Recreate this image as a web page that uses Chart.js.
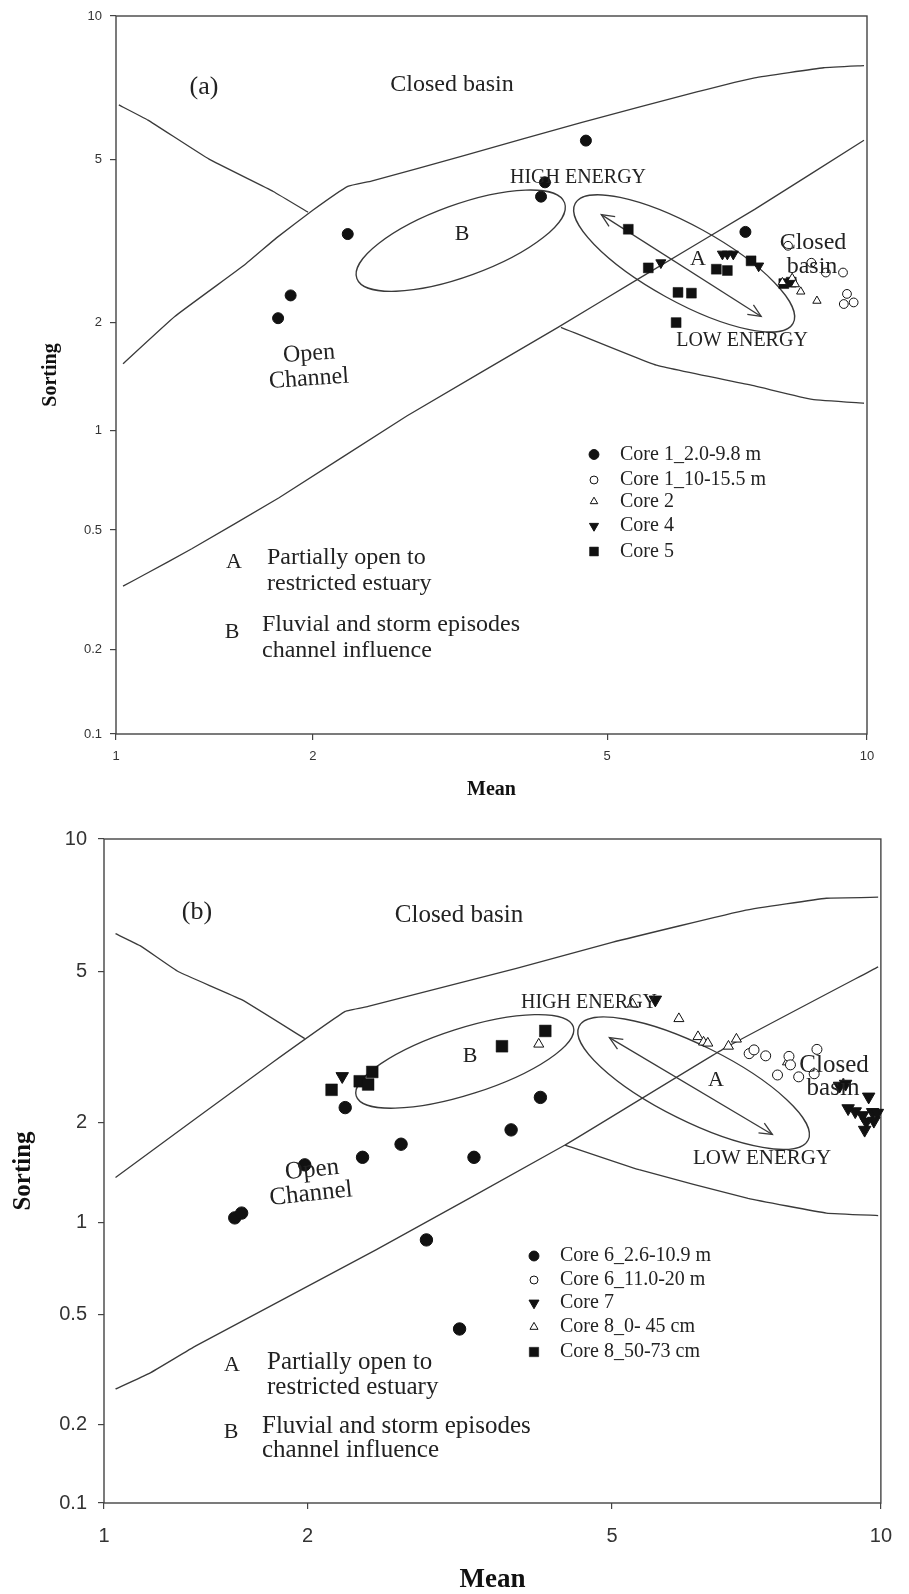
<!DOCTYPE html>
<html>
<head>
<meta charset="utf-8">
<title>Mean vs Sorting</title>
<script src="https://cdn.jsdelivr.net/npm/chart.js@4.4.1/dist/chart.umd.min.js"></script>
<style>
  html, body { margin: 0; padding: 0; background: #fff; }
  #wrap { position: relative; width: 909px; height: 1594px; }
  canvas { position: absolute; left: 0; }
  #chartA { top: 0; }
  #chartB { top: 800px; }
</style>
</head>
<body>
<div id="wrap">
  <canvas id="chartA" width="909" height="800"></canvas>
  <canvas id="chartB" width="909" height="794"></canvas>
</div>
<script>
// tick values shared by both panels
const X_TICKS = [1, 2, 5, 10];
const Y_TICKS = [0.1, 0.2, 0.5, 1, 2, 5, 10];
// where each tick sits along its axis in the source figure (it is not a clean log spacing)
const X_ANCHORS = [0, 0.262, 0.654, 1];
const Y_ANCHORS = [0, 0.118, 0.284, 0.423, 0.573, 0.80, 1];

// ---------- panel (a) ----------
const PA_CORE1_UPPER_X = [1.77, 1.85, 2.23, 4.07, 4.12, 4.68, 7.23];
const PA_CORE1_UPPER_Y = [2.05, 2.33, 3.29, 4.06, 4.40, 5.48, 3.33];
const PA_CORE1_LOWER_X = [8.10, 8.62, 8.96, 9.38, 9.48, 9.40, 9.65];
const PA_CORE1_LOWER_Y = [3.08, 2.80, 2.65, 2.65, 2.35, 2.22, 2.24];
const PA_CORE2_X = [7.98, 8.19, 8.26, 8.38, 8.75];
const PA_CORE2_Y = [2.51, 2.57, 2.48, 2.38, 2.26];
const PA_CORE4_X = [5.77, 6.80, 6.89, 7.00, 7.49];
const PA_CORE4_Y = [2.80, 2.94, 2.94, 2.94, 2.75];
const PA_CORE5_X = [5.29, 5.58, 6.69, 6.89, 6.04, 6.26, 6.01, 7.34, 8.01, 8.17];
const PA_CORE5_Y = [3.38, 2.72, 2.70, 2.68, 2.37, 2.36, 2.00, 2.83, 2.49, 2.51];

// field boundaries
const PA_UPPER_X = [1.025, 1.23, 1.57, 1.76, 2.0, 2.23, 2.4, 3.21, 4.61, 6.35, 7.41, 8.91, 9.92];
const PA_UPPER_Y = [1.535, 2.07, 2.76, 3.22, 3.76, 4.30, 4.43, 5.1, 5.98, 6.93, 7.42, 7.79, 7.87];
const PA_FALL1_X = [1.01, 1.119, 1.388, 1.74, 1.967];
const PA_FALL1_Y = [6.51, 6.05, 5.01, 4.18, 3.72];
const PA_FALL2_X = [4.33, 5.70, 7.41, 8.64, 9.92];
const PA_FALL2_Y = [1.94, 1.52, 1.33, 1.22, 1.19];
const PA_LOWER_X = [1.025, 1.108, 1.306, 1.776, 2.68, 4.29, 5.44, 7.41, 9.92];
const PA_LOWER_Y = [0.325, 0.356, 0.433, 0.626, 1.096, 1.94, 2.56, 3.78, 5.49];

// ellipses: centre, end of long axis, end of short axis; arrow: start, end
const PA_ELLIPSE_A = [[6.14, 2.79], [8.21, 1.99], [6.44, 3.37]];
const PA_ELLIPSE_B = [[3.17, 3.17], [4.38, 3.92], [3.29, 2.62]];
const PA_ARROW = [[4.91, 3.67], [7.54, 2.07]];

// ---------- panel (b) ----------
const PB_CORE6_UPPER_X = [1.561, 1.598, 1.981, 2.24, 2.36, 2.65, 2.86, 3.30, 3.69, 3.16, 4.03];
const PB_CORE6_UPPER_Y = [1.03, 1.065, 1.49, 2.19, 1.57, 1.72, 0.875, 1.57, 1.90, 0.443, 2.33];
const PB_CORE6_LOWER_X = [7.12, 7.21, 7.43, 7.66, 7.89, 8.09, 8.42, 8.48, 7.92];
const PB_CORE6_LOWER_Y = [3.04, 3.11, 3.00, 2.67, 2.99, 2.64, 2.69, 3.12, 2.84];
const PB_CORE7_X = [2.22, 5.59, 8.99, 9.13, 9.69, 9.19, 9.36, 9.54, 9.79, 9.91, 9.63, 9.82, 9.59];
const PB_CORE7_Y = [2.65, 4.22, 2.50, 2.53, 2.34, 2.18, 2.14, 2.09, 2.13, 2.12, 2.01, 2.02, 1.90];
const PB_CORE8_TOP_X = [5.27, 5.94, 6.24, 6.33, 6.40, 6.75, 6.89, 7.86, 4.01];
const PB_CORE8_TOP_Y = [4.11, 3.76, 3.37, 3.26, 3.24, 3.18, 3.32, 2.89, 3.22];
const PB_CORE8_BOTTOM_X = [2.15, 2.34, 2.40, 2.43, 3.59, 4.09];
const PB_CORE8_BOTTOM_Y = [2.44, 2.57, 2.52, 2.72, 3.18, 3.49];

const PB_UPPER_X = [1.04, 1.367, 1.779, 2.24, 2.40, 3.75, 5.0, 7.06, 8.69, 9.93];
const PB_UPPER_Y = [1.365, 2.05, 2.89, 3.93, 4.05, 5.09, 5.83, 6.90, 7.34, 7.38];
const PB_FALL1_X = [1.04, 1.135, 1.289, 1.598, 1.981];
const PB_FALL1_Y = [6.10, 5.71, 5.0, 4.22, 3.33];
const PB_FALL2_X = [4.34, 5.36, 7.10, 8.69, 9.93];
const PB_FALL2_Y = [1.71, 1.44, 1.18, 1.065, 1.047];
const PB_LOWER_X = [1.04, 1.169, 1.367, 2.457, 4.34, 6.68, 9.93];
const PB_LOWER_Y = [0.269, 0.307, 0.385, 0.812, 1.71, 3.14, 5.13];

const PB_ELLIPSE_A = [[6.17, 2.54], [8.29, 1.77], [6.43, 3.13]];
const PB_ELLIPSE_B = [[3.21, 2.90], [4.45, 3.58], [3.30, 2.39]];
const PB_ARROW = [[4.96, 3.35], [7.56, 1.84]];

const SERIF = '"Liberation Serif", "Times New Roman", serif';
const SANS = '"Liberation Sans", Arial, sans-serif';
const INK = "#111";
const LINE = "#3a3a3a";
const TEXT = "#222";

// log axis whose decades are spaced like the original scan
function warp(ticks, anchors, v) {
    let i = 0;
    while (i < ticks.length - 2 && v > ticks[i + 1]) i++;
    const l0 = Math.log10(ticks[i]), l1 = Math.log10(ticks[i + 1]);
    const t = (Math.log10(v) - l0) / (l1 - l0);
    return anchors[i] + t * (anchors[i + 1] - anchors[i]);
}
function unwarp(ticks, anchors, d) {
    let i = 0;
    while (i < anchors.length - 2 && d > anchors[i + 1]) i++;
    const t = (d - anchors[i]) / (anchors[i + 1] - anchors[i]);
    const l0 = Math.log10(ticks[i]), l1 = Math.log10(ticks[i + 1]);
    return Math.pow(10, l0 + t * (l1 - l0));
}

class WarpedLogScale extends Chart.LogarithmicScale {
    tickSet() {
        return this.axis === "x" ? [X_TICKS, X_ANCHORS] : [Y_TICKS, Y_ANCHORS];
    }
    buildTicks() {
        return this.tickSet()[0].map(v => ({ value: v }));
    }
    getPixelForValue(value) {
        if (value === null || value === undefined || !(value > 0)) return NaN;
        const [t, a] = this.tickSet();
        return this.getPixelForDecimal(warp(t, a, value));
    }
    getValueForPixel(pixel) {
        const [t, a] = this.tickSet();
        return unwarp(t, a, this.getDecimalForPixel(pixel));
    }
}
WarpedLogScale.id = "warpedLog";
Chart.register(WarpedLogScale);

const pts = (xs, ys) => xs.map((x, i) => ({ x: x, y: ys[i] }));

const MARKS = {
    dot:    { style: "circle",   rot: 0,   fill: INK,    bw: 1 },
    ring:   { style: "circle",   rot: 0,   fill: "#fff", bw: 1 },
    up:     { style: "triangle", rot: 0,   fill: "#fff", bw: 1 },
    down:   { style: "triangle", rot: 180, fill: INK,    bw: 1 },
    square: { style: "rect",     rot: 0,   fill: INK,    bw: 0.5 }
};

function markSet(label, xs, ys, kind, radius) {
    const m = MARKS[kind];
    return {
        label: label,
        data: pts(xs, ys),
        showLine: false,
        pointStyle: m.style,
        rotation: m.rot,
        pointRadius: radius,
        pointHoverRadius: radius,
        backgroundColor: m.fill,
        borderColor: INK,
        borderWidth: m.bw,
        clip: false
    };
}

function lineSet(xs, ys) {
    return {
        data: pts(xs, ys),
        showLine: true,
        pointRadius: 0,
        pointHoverRadius: 0,
        borderColor: LINE,
        borderWidth: 1.3,
        tension: 0.1,
        fill: false,
        clip: false
    };
}

function px(chart, p) {
    return [chart.scales.x.getPixelForValue(p[0]), chart.scales.y.getPixelForValue(p[1])];
}

function drawEllipse(chart, e) {
    const ctx = chart.ctx;
    const c = px(chart, e[0]), m = px(chart, e[1]), n = px(chart, e[2]);
    const rx = Math.hypot(m[0] - c[0], m[1] - c[1]);
    const ry = Math.hypot(n[0] - c[0], n[1] - c[1]);
    const rot = Math.atan2(m[1] - c[1], m[0] - c[0]);
    ctx.beginPath();
    ctx.ellipse(c[0], c[1], rx, ry, rot, 0, Math.PI * 2);
    ctx.stroke();
}

function drawArrow(chart, a) {
    const ctx = chart.ctx;
    const s = px(chart, a[0]), e = px(chart, a[1]);
    ctx.beginPath();
    ctx.moveTo(s[0], s[1]);
    ctx.lineTo(e[0], e[1]);
    ctx.stroke();
    const ang = Math.atan2(e[1] - s[1], e[0] - s[0]);
    [[e, ang], [s, ang + Math.PI]].forEach(([p, dir]) => {
        ctx.beginPath();
        ctx.moveTo(p[0] - 14 * Math.cos(dir - 0.42), p[1] - 14 * Math.sin(dir - 0.42));
        ctx.lineTo(p[0], p[1]);
        ctx.lineTo(p[0] - 14 * Math.cos(dir + 0.42), p[1] - 14 * Math.sin(dir + 0.42));
        ctx.stroke();
    });
}

function panelPlugin(p) {
    return {
        id: "panel",
        beforeDatasetsDraw(chart) {
            const { ctx, chartArea: c } = chart;
            ctx.save();
            ctx.strokeStyle = "#444";
            ctx.lineWidth = 1.4;
            ctx.strokeRect(c.left, c.top, c.right - c.left, c.bottom - c.top);
            ctx.strokeStyle = LINE;
            ctx.lineWidth = 1.3;
            p.ellipses.forEach(e => drawEllipse(chart, e));
            drawArrow(chart, p.arrow);
            ctx.restore();
        },
        afterDatasetsDraw(chart) {
            const ctx = chart.ctx;
            ctx.save();
            ctx.fillStyle = TEXT;
            ctx.textBaseline = "middle";
            p.notes.forEach(n => {
                ctx.save();
                ctx.font = n.size + "px " + SERIF;
                ctx.textAlign = n.align || "center";
                ctx.translate(n.x, n.y);
                if (n.rot) ctx.rotate(n.rot * Math.PI / 180);
                ctx.fillText(n.text, 0, 0);
                ctx.restore();
            });
            // legend
            const lg = p.legend;
            p.marks.forEach((ds, i) => {
                const y = lg.rows[i];
                ctx.fillStyle = ds.backgroundColor;
                ctx.strokeStyle = ds.borderColor;
                ctx.lineWidth = ds.borderWidth;
                Chart.helpers.drawPoint(ctx, {
                    pointStyle: ds.pointStyle,
                    rotation: ds.rotation,
                    radius: ds.pointRadius * lg.scale,
                    borderWidth: ds.borderWidth
                }, lg.markX, y);
                ctx.fillStyle = TEXT;
                ctx.font = lg.size + "px " + SERIF;
                ctx.textAlign = "left";
                ctx.fillText(ds.label, lg.textX, y);
            });
            ctx.restore();
        }
    };
}

function axis(which, p) {
    const isX = which === "x";
    return {
        type: "warpedLog",
        min: isX ? 1 : 0.1,
        max: 10,
        afterFit: s => {
            if (isX) s.height = p.xHeight; else s.width = p.yWidth;
        },
        grid: { drawOnChartArea: false, drawTicks: true, tickLength: 6, color: "#444", lineWidth: 1.2 },
        border: { display: false },
        ticks: {
            autoSkip: false,
            maxRotation: 0,
            color: "#333",
            padding: isX ? p.xTickPad : p.yTickPad,
            font: { family: SANS, size: p.tickSize, lineHeight: 1 },
            callback: v => String(v)
        },
        title: {
            display: true,
            text: isX ? "Mean" : "Sorting",
            color: INK,
            font: { family: SERIF, weight: "bold", size: isX ? p.xTitleSize : p.yTitleSize, lineHeight: 1 },
            padding: isX ? { top: 0, bottom: p.xTitlePad } : { top: p.yTitlePad, bottom: 0 }
        }
    };
}

function buildPanel(id, p) {
    return new Chart(document.getElementById(id), {
        type: "scatter",
        data: { datasets: p.marks.concat(p.lines) },
        options: {
            responsive: false,
            animation: false,
            events: [],
            layout: { padding: p.pad },
            plugins: { legend: { display: false }, tooltip: { enabled: false } },
            scales: { x: axis("x", p), y: axis("y", p) }
        },
        plugins: [panelPlugin(p)]
    });
}

buildPanel("chartA", {
    pad: { left: 0, right: 42, top: 16, bottom: 0 },
    yWidth: 116, xHeight: 66,
    tickSize: 13, xTickPad: 10, yTickPad: 8,
    xTitleSize: 20, xTitlePad: 0, yTitleSize: 20, yTitlePad: 41,
    marks: [
        markSet("Core 1_2.0-9.8 m", PA_CORE1_UPPER_X, PA_CORE1_UPPER_Y, "dot", 5.5),
        markSet("Core 1_10-15.5 m", PA_CORE1_LOWER_X, PA_CORE1_LOWER_Y, "ring", 4.4),
        markSet("Core 2", PA_CORE2_X, PA_CORE2_Y, "up", 4.8),
        markSet("Core 4", PA_CORE4_X, PA_CORE4_Y, "down", 5.8),
        markSet("Core 5", PA_CORE5_X, PA_CORE5_Y, "square", 7)
    ],
    lines: [
        lineSet(PA_UPPER_X, PA_UPPER_Y),
        lineSet(PA_FALL1_X, PA_FALL1_Y),
        lineSet(PA_FALL2_X, PA_FALL2_Y),
        lineSet(PA_LOWER_X, PA_LOWER_Y)
    ],
    ellipses: [PA_ELLIPSE_A, PA_ELLIPSE_B],
    arrow: PA_ARROW,
    legend: { markX: 594, textX: 620, size: 20, scale: 0.9, rows: [454.5, 480, 501.5, 526, 551.5] },
    notes: [
        { text: "(a)", x: 204, y: 87, size: 26 },
        { text: "Closed basin", x: 452, y: 85, size: 24 },
        { text: "HIGH ENERGY", x: 578, y: 178, size: 20 },
        { text: "LOW ENERGY", x: 742, y: 341, size: 20 },
        { text: "A", x: 698, y: 259, size: 22 },
        { text: "B", x: 462, y: 234, size: 22 },
        { text: "Closed", x: 813, y: 243, size: 24 },
        { text: "basin", x: 812, y: 267, size: 24 },
        { text: "Open", x: 309, y: 354, size: 24, rot: -4 },
        { text: "Channel", x: 309, y: 379, size: 24, rot: -4 },
        { text: "A", x: 234, y: 562, size: 22 },
        { text: "Partially open to", x: 267, y: 558, size: 24, align: "left" },
        { text: "restricted estuary", x: 267, y: 584, size: 24, align: "left" },
        { text: "B", x: 232, y: 632, size: 22 },
        { text: "Fluvial and storm episodes", x: 262, y: 625, size: 24, align: "left" },
        { text: "channel influence", x: 262, y: 651, size: 24, align: "left" }
    ]
});

buildPanel("chartB", {
    pad: { left: 0, right: 17, top: 39, bottom: 0 },
    yWidth: 104, xHeight: 91,
    tickSize: 20, xTickPad: 17, yTickPad: 11,
    xTitleSize: 27, xTitlePad: 0, yTitleSize: 25, yTitlePad: 11,
    marks: [
        markSet("Core 6_2.6-10.9 m", PB_CORE6_UPPER_X, PB_CORE6_UPPER_Y, "dot", 6.2),
        markSet("Core 6_11.0-20 m", PB_CORE6_LOWER_X, PB_CORE6_LOWER_Y, "ring", 5),
        markSet("Core 7", PB_CORE7_X, PB_CORE7_Y, "down", 7.2),
        markSet("Core 8_0- 45 cm", PB_CORE8_TOP_X, PB_CORE8_TOP_Y, "up", 5.8),
        markSet("Core 8_50-73 cm", PB_CORE8_BOTTOM_X, PB_CORE8_BOTTOM_Y, "square", 8.3)
    ],
    lines: [
        lineSet(PB_UPPER_X, PB_UPPER_Y),
        lineSet(PB_FALL1_X, PB_FALL1_Y),
        lineSet(PB_FALL2_X, PB_FALL2_Y),
        lineSet(PB_LOWER_X, PB_LOWER_Y)
    ],
    ellipses: [PB_ELLIPSE_A, PB_ELLIPSE_B],
    arrow: PB_ARROW,
    legend: { markX: 534, textX: 560, size: 20, scale: 0.8, rows: [456, 480, 503, 527, 552] },
    notes: [
        { text: "(b)", x: 197, y: 112, size: 26 },
        { text: "Closed basin", x: 459, y: 115, size: 25 },
        { text: "HIGH ENERGY", x: 589, y: 203, size: 20 },
        { text: "LOW ENERGY", x: 762, y: 358, size: 21 },
        { text: "A", x: 716, y: 280, size: 22 },
        { text: "B", x: 470, y: 256, size: 22 },
        { text: "Closed", x: 834, y: 265, size: 25 },
        { text: "basin", x: 833, y: 288, size: 25 },
        { text: "Open", x: 312, y: 370, size: 25, rot: -6 },
        { text: "Channel", x: 311, y: 394, size: 25, rot: -6 },
        { text: "A", x: 232, y: 565, size: 22 },
        { text: "Partially open to", x: 267, y: 562, size: 25, align: "left" },
        { text: "restricted estuary", x: 267, y: 587, size: 25, align: "left" },
        { text: "B", x: 231, y: 632, size: 22 },
        { text: "Fluvial and storm episodes", x: 262, y: 626, size: 25, align: "left" },
        { text: "channel influence", x: 262, y: 650, size: 25, align: "left" }
    ]
});
</script>
</body>
</html>
